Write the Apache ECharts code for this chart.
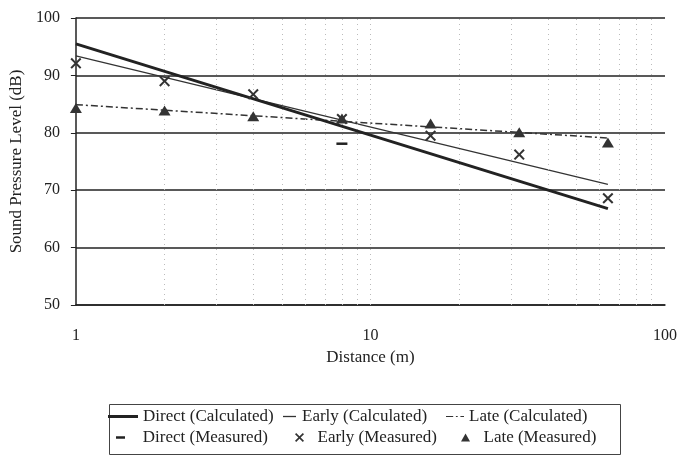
<!DOCTYPE html>
<html>
<head>
<meta charset="utf-8">
<script src="https://cdn.jsdelivr.net/npm/echarts@6/dist/echarts.min.js"></script>
<style>html,body{margin:0;padding:0;background:#fff}#c{width:687px;height:457px}</style>
</head>
<body>
<div id="c"></div>
<script>
// ---- data ----
const calcDistance = [1, 64];
const directCalculated = [95.5, 66.8];
const earlyCalculated = [93.4, 71.0];
const lateCalculated = [84.9, 79.1];

const measDistance = [1, 2, 4, 8, 16, 32, 64];
const earlyMeasured = [92.1, 89.0, 86.7, 82.4, 79.5, 76.2, 68.6];
const lateMeasured = [84.3, 83.9, 82.9, 82.5, 81.6, 80.1, 78.3];

const directMeasDistance = [8];
const directMeasured = [78.1];

const minorGridX = [2, 3, 4, 5, 6, 7, 8, 9, 10, 20, 30, 40, 50, 60, 70, 80, 90];
const yTicks = [50, 60, 70, 80, 90, 100];

const names = ['Direct (Calculated)', 'Early (Calculated)', 'Late (Calculated)',
               'Direct (Measured)', 'Early (Measured)', 'Late (Measured)'];

const pairs = (xs, ys) => xs.map((x, i) => [x, ys[i]]);

const FONT = 'Liberation Serif';
const INK = '#222';
const xPath = 'path://M0,1.3L1.3,0L5,3.7L8.7,0L10,1.3L6.3,5L10,8.7L8.7,10L5,6.3L1.3,10L0,8.7L3.7,5Z';
const barIcon = 'path://M0,0H10V1H0Z';
const dashDotIcon = 'path://M0,0H8V1H0Z M11,0H13V1H11Z M16,0H20V1H16Z';

function legendAt(name, icon, left, top, w, h, pad) {
  return {
    data: [{ name: name, icon: icon }], left: left, top: top, padding: 0,
    itemWidth: w, itemHeight: h, selectedMode: false,
    formatter: (n) => pad + n,
    textStyle: { fontFamily: FONT, fontSize: 17, color: INK }
  };
}

const chart = echarts.init(document.getElementById('c'), null, { renderer: 'canvas' });
chart.setOption({
  animation: false,
  backgroundColor: '#fff',
  grid: { left: 75, right: 22, top: 18, bottom: 152, containLabel: false },
  xAxis: {
    type: 'log', logBase: 10, min: 1, max: 100,
    name: 'Distance (m)', nameLocation: 'middle', nameGap: 38,
    nameTextStyle: { fontFamily: FONT, fontSize: 17, color: INK },
    axisLine: { show: true, lineStyle: { color: INK, width: 1.5 } },
    axisTick: { show: false },
    axisLabel: { fontFamily: FONT, fontSize: 16, color: INK, margin: 23 },
    splitLine: { show: false }, minorTick: { show: false }, minorSplitLine: { show: false }
  },
  yAxis: {
    type: 'value', min: yTicks[0], max: yTicks[yTicks.length - 1], interval: 10,
    name: 'Sound Pressure Level (dB)', nameLocation: 'middle', nameGap: 47,
    nameTextStyle: { fontFamily: FONT, fontSize: 17, color: INK },
    axisLine: { show: true, lineStyle: { color: INK, width: 1.5 } },
    axisTick: { show: true, length: 5, lineStyle: { color: INK } },
    axisLabel: { fontFamily: FONT, fontSize: 16, color: INK, margin: 16 },
    splitLine: { show: true, lineStyle: { color: INK, width: 1.5 } }
  },
  legend: [
    legendAt(names[0], barIcon, 108, 408, 30, 3, ''),
    legendAt(names[1], barIcon, 283, 408, 15, 1.3, ''),
    legendAt(names[2], dashDotIcon, 446, 408, 18, 1.5, ''),
    legendAt(names[3], 'rect', 116, 429, 9, 2.5, '   '),
    legendAt(names[4], xPath, 295, 429, 9, 9, '  '),
    legendAt(names[5], 'triangle', 461, 429, 9, 8, '  ')
  ],
  graphic: [{
    type: 'rect', left: 107, top: 402, silent: true,
    shape: { width: 511, height: 50 },
    style: { fill: 'none', stroke: '#444', lineWidth: 1 }
  }],
  series: [
    {
      type: 'line', name: 'grid-minor', silent: true, data: [], symbol: 'none',
      markLine: {
        silent: true, symbol: ['none', 'none'], label: { show: false },
        lineStyle: { color: '#bbb', type: [1, 4], width: 1 },
        data: minorGridX.map(v => ({ xAxis: v }))
      }
    },
    {
      type: 'line', name: names[0], data: pairs(calcDistance, directCalculated),
      symbol: 'none', lineStyle: { color: INK, width: 3 }, itemStyle: { color: INK }, z: 5
    },
    {
      type: 'line', name: names[1], data: pairs(calcDistance, earlyCalculated),
      symbol: 'none', lineStyle: { color: '#333', width: 1.3 }, itemStyle: { color: '#333' }, z: 4
    },
    {
      type: 'line', name: names[2], data: pairs(calcDistance, lateCalculated),
      symbol: 'none', lineStyle: { color: '#333', width: 1.5, type: [7, 3, 2, 3] }, itemStyle: { color: '#333' }, z: 4
    },
    {
      type: 'scatter', name: names[3], data: pairs(directMeasDistance, directMeasured),
      symbol: 'rect', symbolSize: [11, 2.5], itemStyle: { color: INK, opacity: 1 }, z: 6
    },
    {
      type: 'scatter', name: names[4], data: pairs(measDistance, earlyMeasured),
      symbol: xPath, symbolSize: 11, itemStyle: { color: '#333', opacity: 1 }, z: 6
    },
    {
      type: 'scatter', name: names[5], data: pairs(measDistance, lateMeasured),
      symbol: 'triangle', symbolSize: [12, 10], itemStyle: { color: '#333', opacity: 1 }, z: 6
    }
  ]
});
</script>
</body>
</html>
